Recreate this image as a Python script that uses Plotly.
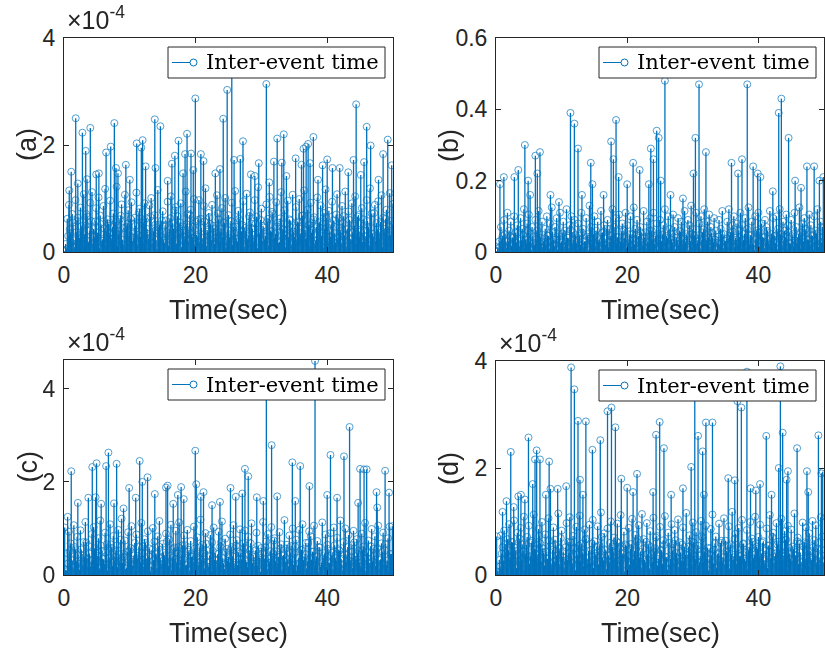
import numpy as np
import plotly.graph_objects as go

BLUE = '#0072BD'
AX = '#262626'

# sampling interval of the dense background (s); second background list sits half a step later
dt = 0.25

# ---------------- panel (a): values in units of 1e-4 s ----------------
a_bg = [0.02,0.15,0.62,0.88,0.35,0.71,0.22,0.97,0.58,0.31,
        0.83,0.27,1.08,0.49,0.66,0.18,0.92,1.12,0.43,0.57,
        0.29,1.02,0.68,0.21,0.86,1.18,0.38,0.53,0.96,0.24,
        0.72,0.41,1.22,0.33,0.61,0.89,0.14,1.07,0.47,0.78,
        0.39,0.93,0.26,0.64,1.11,0.32,0.81,0.56,0.19,0.91,
        0.63,0.34,0.87,1.01,0.44,0.69,0.23,1.16,0.51,0.28,
        0.76,0.17,0.59,0.94,0.42,1.04,0.54,0.31,0.84,0.67,
        0.36,0.91,0.48,0.22,1.13,0.71,0.46,0.79,0.26,0.99,
        0.57,0.29,0.97,0.62,0.16,0.86,1.19,0.41,0.73,0.52,
        0.88,0.44,0.27,1.06,0.61,0.37,0.82,0.56,1.01,0.21,
        0.69,0.33,0.92,0.47,1.14,0.25,0.77,0.58,0.39,0.95,
        0.45,1.09,0.31,0.74,0.53,0.18,0.97,0.66,1.21,0.34,
        0.81,0.49,0.23,0.89,0.62,1.03,0.38,0.71,0.27,0.93,
        0.55,0.19,1.12,0.43,0.78,0.32,0.96,0.61,0.45,1.07,
        0.28,0.84,0.57,0.99,0.36,0.68,1.15,0.24,0.79,0.51,
        0.92,0.41,0.65,0.21,1.02,0.54,0.87,0.35,0.73,1.17,
        0.46,0.77,0.29,0.94,0.59,0.17,1.08,0.63,0.39,0.86,
        0.67,1.13,0.42,0.76,0.25,0.91,0.53,1.04,0.33,0.69,
        0.38,0.82,0.61,0.19,0.97,0.47,1.19,0.72,0.28,0.88,
        0.54,0.95,0.36,1.06,0.64,0.43,0.79,0.31,1.1,0.58]
a_bg2 = [0.01,0.05,0.3,0.42,0.18,0.55,0.09,0.37,0.64,0.26,
         0.48,0.12,0.33,0.71,0.21,0.4,0.58,0.15,0.29,0.82,
         0.36,0.07,0.52,0.24,0.44,0.13,0.61,0.34,0.19,0.47,
         0.27,0.56,0.11,0.39,0.68,0.23,0.45,0.08,0.53,0.31,
         0.62,0.2,0.35,0.49,0.14,0.74,0.28,0.41,0.57,0.1,
         0.43,0.25,0.66,0.17,0.38,0.51,0.06,0.46,0.3,0.59,
         0.22,0.5,0.37,0.12,0.63,0.27,0.44,0.78,0.16,0.34,
         0.55,0.09,0.4,0.29,0.52,0.21,0.69,0.33,0.47,0.14,
         0.32,0.6,0.18,0.45,0.26,0.57,0.11,0.38,0.65,0.23,
         0.49,0.15,0.36,0.72,0.2,0.43,0.28,0.54,0.08,0.41,
         0.26,0.58,0.13,0.35,0.47,0.19,0.62,0.3,0.5,0.1,
         0.39,0.24,0.67,0.16,0.44,0.32,0.53,0.07,0.37,0.6,
         0.21,0.46,0.29,0.56,0.12,0.4,0.75,0.25,0.34,0.48,
         0.17,0.63,0.31,0.42,0.09,0.52,0.27,0.59,0.14,0.38,
         0.45,0.22,0.55,0.33,0.68,0.18,0.41,0.26,0.5,0.11,
         0.36,0.61,0.15,0.47,0.24,0.57,0.3,0.08,0.43,0.64,
         0.2,0.39,0.52,0.13,0.35,0.7,0.27,0.46,0.17,0.54,
         0.31,0.1,0.44,0.6,0.23,0.37,0.49,0.16,0.66,0.28,
         0.53,0.19,0.4,0.3,0.58,0.12,0.45,0.34,0.73,0.21,
         0.42,0.26,0.56,0.09,0.38,0.62,0.18,0.48,0.32,0.51]
a_peak_t = [0.8,1.1,1.78,2.1,2.8,3.3,3.5,4.0,4.9,5.3,6.4,7.1,7.65,7.9,8.2,9.4,10.0,11.05,11.75,11.95,
            12.4,13.8,13.9,14.65,15.75,16.4,16.85,17.4,18.1,18.4,18.7,19.3,19.65,19.96,20.8,21.2,23.0,23.7,
            24.2,24.8,25.5,25.85,26.8,27.2,28.4,29.0,29.6,30.75,31.2,31.9,32.4,33.1,33.4,33.8,35.2,36.1,
            36.4,36.8,37.1,37.4,37.9,38.6,39.3,40.0,40.8,41.9,43.2,44.0,44.4,45.1,45.6,46.0,46.6,47.8,
            48.5,49.2,49.8,50.0]
a_peak_v = [1.15,1.5,2.5,1.28,2.23,1.89,1.36,2.32,1.45,1.47,1.86,1.97,2.41,1.57,1.47,1.63,1.35,2.03,1.95,2.09,
            1.6,2.48,1.57,2.35,1.33,1.65,1.8,2.08,1.47,1.83,2.21,1.84,1.53,2.87,1.83,1.7,1.47,1.55,
            2.49,3.03,3.6,1.72,1.74,2.07,1.45,1.42,1.66,3.14,1.3,1.69,2.12,1.67,2.2,1.42,1.75,1.63,
            1.93,1.97,2.02,1.66,2.15,1.35,1.62,1.73,1.57,1.57,1.49,1.72,2.76,1.44,1.68,2.34,1.99,1.35,
            1.83,2.10,1.62,0.9]

# ---------------- panel (b): values in s ----------------
b_bg = [0.002,0.01,0.03,0.07,0.045,0.09,0.03,0.11,0.06,0.085,
        0.04,0.1,0.055,0.075,0.02,0.095,0.065,0.12,0.035,0.08,
        0.105,0.05,0.07,0.025,0.09,0.06,0.115,0.04,0.085,0.03,
        0.065,0.1,0.045,0.08,0.125,0.035,0.07,0.095,0.05,0.11,
        0.03,0.085,0.06,0.12,0.04,0.075,0.1,0.055,0.09,0.025,
        0.08,0.045,0.11,0.065,0.03,0.095,0.05,0.13,0.07,0.04,
        0.1,0.06,0.085,0.035,0.115,0.055,0.075,0.02,0.09,0.065,
        0.045,0.12,0.07,0.095,0.04,0.105,0.03,0.08,0.06,0.11,
        0.075,0.035,0.1,0.05,0.125,0.065,0.09,0.045,0.07,0.03,
        0.115,0.055,0.085,0.025,0.095,0.06,0.11,0.04,0.08,0.05,
        0.09,0.03,0.075,0.12,0.045,0.1,0.065,0.035,0.105,0.07,
        0.04,0.095,0.06,0.085,0.02,0.115,0.05,0.09,0.075,0.13,
        0.065,0.045,0.11,0.03,0.08,0.1,0.055,0.12,0.035,0.085,
        0.105,0.07,0.04,0.095,0.06,0.025,0.09,0.065,0.115,0.05,
        0.03,0.085,0.12,0.055,0.075,0.1,0.04,0.08,0.06,0.11,
        0.075,0.035,0.095,0.065,0.125,0.045,0.085,0.02,0.1,0.06,
        0.11,0.055,0.08,0.04,0.09,0.07,0.03,0.115,0.05,0.095,
        0.045,0.1,0.065,0.12,0.035,0.085,0.06,0.105,0.075,0.025,
        0.09,0.05,0.11,0.07,0.04,0.125,0.055,0.08,0.095,0.065,
        0.035,0.105,0.075,0.045,0.1,0.06,0.12,0.03,0.085,0.07]
b_bg2 = [0.001,0.004,0.015,0.035,0.02,0.05,0.012,0.03,0.045,0.018,
         0.04,0.008,0.026,0.055,0.016,0.033,0.048,0.011,0.024,0.06,
         0.028,0.006,0.042,0.019,0.036,0.01,0.05,0.027,0.014,0.038,
         0.022,0.046,0.009,0.031,0.057,0.017,0.035,0.007,0.044,0.025,
         0.052,0.015,0.029,0.04,0.011,0.062,0.023,0.034,0.047,0.008,
         0.036,0.02,0.054,0.013,0.03,0.043,0.005,0.038,0.024,0.049,
         0.018,0.041,0.03,0.01,0.053,0.022,0.037,0.065,0.013,0.028,
         0.046,0.007,0.033,0.024,0.043,0.017,0.058,0.027,0.039,0.011,
         0.026,0.05,0.015,0.037,0.021,0.048,0.009,0.031,0.055,0.019,
         0.041,0.012,0.03,0.06,0.016,0.036,0.023,0.045,0.006,0.034,
         0.021,0.049,0.01,0.029,0.039,0.015,0.052,0.025,0.042,0.008,
         0.032,0.02,0.056,0.013,0.037,0.026,0.044,0.005,0.031,0.05,
         0.017,0.038,0.024,0.047,0.01,0.033,0.063,0.021,0.028,0.04,
         0.014,0.053,0.026,0.035,0.007,0.043,0.022,0.049,0.011,0.032,
         0.037,0.018,0.046,0.027,0.057,0.015,0.034,0.021,0.042,0.009,
         0.03,0.051,0.012,0.039,0.02,0.048,0.025,0.006,0.036,0.054,
         0.016,0.032,0.043,0.011,0.029,0.059,0.022,0.038,0.014,0.045,
         0.026,0.008,0.037,0.05,0.019,0.031,0.041,0.013,0.055,0.023,
         0.044,0.016,0.033,0.025,0.048,0.01,0.037,0.028,0.061,0.017,
         0.035,0.021,0.047,0.007,0.032,0.052,0.015,0.04,0.027,0.043]
b_peak_t = [0.6,1.2,2.8,3.4,4.4,4.9,5.2,6.0,6.3,6.7,8.3,9.6,11.35,11.95,12.5,13.1,14.45,14.7,16.4,17.55,
            17.9,18.3,18.7,20.0,20.9,21.9,23.3,23.6,24.0,24.5,24.8,25.1,25.75,26.6,28.5,30.1,30.4,30.95,
            32.0,35.9,36.9,37.5,38.3,39.2,39.9,40.3,42.2,43.1,43.5,44.6,45.6,46.5,47.4,48.5,49.3,49.9]
b_peak_v = [0.19,0.21,0.21,0.23,0.30,0.20,0.16,0.27,0.22,0.28,0.16,0.14,0.39,0.36,0.29,0.16,0.25,0.19,0.16,0.31,
            0.26,0.37,0.21,0.19,0.25,0.23,0.19,0.29,0.26,0.34,0.32,0.20,0.48,0.16,0.15,0.22,0.32,0.47,
            0.28,0.25,0.22,0.26,0.47,0.24,0.22,0.21,0.17,0.39,0.43,0.32,0.20,0.18,0.24,0.24,0.20,0.21]

# ---------------- panel (c): values in units of 1e-4 s ----------------
c_bg = [0.03,0.11,0.47,0.93,0.68,0.31,1.07,0.55,0.82,0.24,
        0.96,0.43,0.71,1.14,0.36,0.62,0.19,0.88,1.03,0.49,
        0.27,0.79,1.17,0.52,0.34,0.91,0.66,0.22,1.09,0.58,
        0.84,0.39,0.63,0.97,0.28,1.21,0.45,0.74,0.16,0.92,
        0.53,1.05,0.33,0.69,0.87,0.41,0.23,1.12,0.61,0.77,
        0.35,0.94,0.57,0.18,1.01,0.72,0.46,0.83,1.16,0.29,
        0.67,0.42,0.89,0.26,0.76,1.08,0.37,0.59,0.95,0.48,
        1.13,0.31,0.64,0.85,0.21,0.97,0.54,0.73,0.4,1.04,
        0.44,0.81,0.27,1.19,0.65,0.36,0.9,0.52,0.17,0.86,
        0.7,1.02,0.47,0.32,0.93,0.61,1.15,0.25,0.78,0.56,
        0.39,0.87,0.6,1.07,0.22,0.75,0.49,0.98,0.34,0.68,
        0.96,0.28,0.82,0.53,1.11,0.43,0.19,0.91,0.63,0.37,
        0.58,1.14,0.35,0.72,0.88,0.26,1.03,0.47,0.79,0.51,
        0.24,0.92,0.66,0.41,1.18,0.57,0.33,0.85,0.62,1.0,
        0.45,0.76,0.2,0.97,0.54,1.09,0.38,0.69,0.29,0.94,
        0.83,0.5,1.06,0.31,0.73,0.6,0.18,1.13,0.42,0.87,
        0.65,0.27,0.9,0.48,1.02,0.36,0.8,0.55,1.17,0.23,
        0.71,1.0,0.44,0.86,0.3,0.64,0.95,0.4,0.77,0.52,
        0.19,0.89,0.61,1.12,0.37,0.74,0.26,0.99,0.56,0.83,
        0.47,1.06,0.32,0.68,0.91,0.53,0.22,0.79,1.04,0.45]
c_bg2 = [0.02,0.08,0.25,0.51,0.34,0.16,0.6,0.29,0.43,0.12,
         0.55,0.22,0.38,0.7,0.19,0.46,0.31,0.09,0.57,0.27,
         0.41,0.14,0.63,0.35,0.24,0.49,0.1,0.37,0.66,0.2,
         0.3,0.53,0.17,0.44,0.76,0.26,0.39,0.13,0.5,0.33,
         0.58,0.21,0.42,0.11,0.36,0.61,0.28,0.47,0.18,0.69,
         0.25,0.4,0.08,0.54,0.32,0.45,0.15,0.62,0.37,0.23,
         0.48,0.3,0.72,0.19,0.41,0.12,0.56,0.34,0.27,0.6,
         0.16,0.43,0.35,0.64,0.22,0.5,0.1,0.39,0.29,0.57,
         0.38,0.2,0.59,0.31,0.46,0.14,0.67,0.26,0.42,0.09,
         0.52,0.33,0.18,0.45,0.24,0.71,0.36,0.13,0.49,0.3,
         0.27,0.55,0.4,0.15,0.63,0.21,0.34,0.47,0.11,0.58,
         0.32,0.17,0.44,0.68,0.25,0.38,0.53,0.2,0.41,0.07,
         0.46,0.29,0.6,0.13,0.35,0.51,0.23,0.74,0.3,0.16,
         0.39,0.57,0.12,0.43,0.28,0.65,0.19,0.48,0.34,0.22,
         0.61,0.1,0.37,0.26,0.54,0.31,0.45,0.14,0.69,0.24,
         0.33,0.5,0.21,0.4,0.08,0.59,0.27,0.36,0.47,0.18,
         0.56,0.25,0.42,0.13,0.64,0.3,0.19,0.52,0.35,0.11,
         0.44,0.28,0.6,0.22,0.38,0.15,0.7,0.32,0.46,0.26,
         0.17,0.53,0.36,0.09,0.48,0.24,0.62,0.29,0.41,0.2,
         0.58,0.14,0.34,0.5,0.23,0.67,0.31,0.12,0.45,0.37]
c_peak_t = [0.1,0.55,1.1,2.1,3.7,4.3,4.8,4.95,5.65,6.4,6.75,7.6,8.0,9.05,9.9,10.9,11.5,11.9,12.7,13.8,
            15.5,15.75,16.6,17.3,17.8,18.2,19.95,20.1,20.8,21.2,22.5,23.7,25.3,26.1,27.1,27.5,28.0,29.3,
            30.3,30.75,31.55,32.4,34.7,35.15,35.9,37.3,38.15,40.0,40.5,41.5,42.55,43.4,44.7,45.0,45.6,
            46.0,47.5,47.6,48.8,49.4,49.9]
c_peak_v = [1.02,1.25,2.23,1.55,1.66,2.32,1.67,2.40,1.53,2.34,2.63,1.54,2.39,1.43,1.87,1.66,2.45,2.0,2.1,1.74,
            1.88,1.92,1.53,1.72,1.89,1.63,2.67,1.95,1.68,1.78,1.5,1.57,1.87,1.68,1.75,2.28,2.12,1.67,
            1.59,4.2,2.79,1.69,2.42,1.59,2.34,1.91,4.6,1.72,2.58,1.66,2.55,3.18,1.55,2.28,2.27,
            2.27,1.78,1.45,2.24,1.77,1.05]

# ---------------- panel (d): values in units of 1e-4 s ----------------
d_bg = [0.01,0.06,0.28,0.74,0.52,0.83,0.41,0.67,0.95,0.33,
        0.61,1.02,0.45,0.79,0.26,0.88,0.57,1.09,0.38,0.71,
        0.92,0.35,0.64,1.13,0.48,0.23,0.86,0.59,0.99,0.42,
        0.76,0.31,1.06,0.54,0.2,0.89,0.66,0.37,1.15,0.5,
        0.83,0.44,0.27,0.97,0.62,1.08,0.35,0.73,0.51,0.9,
        0.29,1.11,0.58,0.4,0.85,0.68,0.22,0.94,0.47,1.03,
        0.63,0.36,0.91,0.55,1.17,0.32,0.78,0.46,0.87,0.25,
        1.0,0.53,0.7,0.19,0.96,0.6,1.12,0.39,0.81,0.57,
        0.34,0.88,0.49,1.05,0.28,0.75,0.62,0.93,0.43,1.14,
        0.67,0.24,0.97,0.56,0.82,0.37,1.07,0.5,0.73,0.3,
        0.9,0.46,0.65,1.1,0.33,0.79,0.21,0.95,0.58,0.84,
        0.41,1.04,0.61,0.27,0.89,0.52,1.16,0.38,0.74,0.63,
        0.98,0.35,0.8,0.55,0.23,1.01,0.69,0.44,0.92,0.51,
        0.3,0.86,1.13,0.47,0.72,0.39,0.96,0.6,0.25,1.06,
        0.64,0.42,0.91,0.57,1.18,0.33,0.77,0.5,0.88,0.36,
        1.03,0.59,0.26,0.84,0.45,0.99,0.68,0.31,1.09,0.53,
        0.71,0.94,0.4,0.63,0.2,0.87,0.55,1.12,0.43,0.79,
        0.35,0.97,0.62,0.48,1.05,0.29,0.82,0.66,0.92,0.4,
        0.85,0.53,1.15,0.37,0.7,0.58,0.24,0.98,0.61,0.89,
        0.46,0.78,0.32,1.01,0.65,0.93,0.5,0.19,1.08,0.72]
d_bg2 = [0.01,0.03,0.16,0.4,0.27,0.58,0.19,0.46,0.33,0.62,
         0.24,0.51,0.13,0.37,0.68,0.29,0.44,0.1,0.56,0.35,
         0.21,0.6,0.32,0.48,0.15,0.39,0.73,0.26,0.5,0.18,
         0.43,0.3,0.64,0.12,0.47,0.25,0.57,0.36,0.2,0.69,
         0.34,0.14,0.52,0.28,0.41,0.61,0.22,0.49,0.09,0.38,
         0.55,0.26,0.42,0.17,0.66,0.31,0.45,0.23,0.59,0.13,
         0.4,0.53,0.2,0.35,0.71,0.27,0.48,0.11,0.37,0.6,
         0.24,0.44,0.32,0.63,0.16,0.5,0.29,0.41,0.07,0.54,
         0.36,0.19,0.58,0.3,0.45,0.22,0.67,0.33,0.14,0.49,
         0.28,0.62,0.39,0.12,0.52,0.25,0.43,0.7,0.18,0.35,
         0.47,0.21,0.56,0.34,0.1,0.6,0.3,0.46,0.23,0.65,
         0.32,0.15,0.42,0.57,0.26,0.38,0.13,0.53,0.4,0.2,
         0.61,0.29,0.48,0.17,0.36,0.72,0.24,0.44,0.31,0.09,
         0.5,0.37,0.22,0.59,0.14,0.41,0.27,0.64,0.33,0.19,
         0.45,0.55,0.12,0.39,0.28,0.68,0.21,0.47,0.35,0.16,
         0.58,0.3,0.43,0.11,0.52,0.25,0.62,0.38,0.2,0.49,
         0.34,0.18,0.6,0.27,0.46,0.13,0.55,0.32,0.71,0.23,
         0.4,0.57,0.15,0.44,0.29,0.36,0.66,0.1,0.51,0.3,
         0.26,0.48,0.37,0.63,0.2,0.42,0.14,0.54,0.31,0.59,
         0.17,0.45,0.28,0.52,0.39,0.22,0.6,0.33,0.47,0.24]
d_peak_t = [0.1,1.0,1.6,2.25,2.7,3.4,3.8,4.4,4.95,5.6,5.95,6.2,6.7,7.6,8.1,8.3,9.4,10.7,11.45,11.95,
            12.5,12.8,13.25,13.7,14.7,15.9,17.0,17.6,18.2,19.1,20.0,20.9,21.5,23.95,24.4,24.95,25.6,26.7,
            28.5,29.75,30.3,30.8,31.5,31.7,32.0,33.0,35.4,36.4,36.8,37.4,38.25,38.8,39.6,40.25,41.2,42.0,
            43.1,43.35,43.7,44.3,44.5,45.9,47.4,47.6,49.15,49.6,49.8]
d_peak_v = [0.72,1.18,1.38,2.30,1.27,1.47,1.50,1.41,2.57,1.7,2.16,2.33,2.16,1.50,2.12,1.61,1.61,1.66,3.88,3.47,
            2.88,1.78,1.50,2.87,2.34,2.52,3.06,3.13,2.76,1.8,1.63,1.55,1.89,1.55,2.62,2.86,2.37,1.5,
            1.62,2.02,3.7,2.6,2.31,1.5,2.85,2.85,1.81,1.77,3.25,3.13,3.8,1.62,1.58,1.70,2.6,1.50,
            2.0,3.9,2.66,1.78,1.94,2.37,1.94,1.55,2.61,1.9,1.93]

x_ticks = [0, 20, 40]
ylabels = ['(a)', '(b)', '(c)', '(d)']
y_ticks = [[0, 2, 4], [0, 0.2, 0.4, 0.6], [0, 2, 4], [0, 2, 4]]
y_ticktext = [['0', '2', '4'], ['0', '0.2', '0.4', '0.6'], ['0', '2', '4'], ['0', '2', '4']]
y_ranges = [[0, 4], [0, 0.6], [0, 4.62], [0, 4]]
show_exp = [True, False, True, True]
legend_label = 'Inter-event time'

W, H = 825, 652
# plot areas in pixels: (left, right, top, bottom)
boxes = [(64, 393, 38, 252), (496, 824, 38, 252), (64, 393, 360, 575), (496, 824, 361, 575)]

panels = [(a_bg, a_bg2, a_peak_t, a_peak_v), (b_bg, b_bg2, b_peak_t, b_peak_v),
          (c_bg, c_bg2, c_peak_t, c_peak_v), (d_bg, d_bg2, d_peak_t, d_peak_v)]

SANS = 'Liberation Sans, Arial, sans-serif'
SERIF = 'DejaVu Serif, Liberation Serif, serif'


def px(x):
    return x / W


def py(y):
    return (H - y) / H


fig = go.Figure()
layout = dict(width=W, height=H, margin=dict(l=0, r=0, t=0, b=0, autoexpand=False),
              paper_bgcolor='white', plot_bgcolor='white', showlegend=False)
annotations = []
shapes = []

for i, (bg, bg2, pt, pv) in enumerate(panels):
    n = i + 1
    sfx = '' if n == 1 else str(n)
    t_all = ([round(k * dt, 3) for k in range(len(bg))] +
             [round(k * dt + dt / 2, 3) for k in range(len(bg2))] + list(pt))
    v_all = list(bg) + list(bg2) + list(pv)
    order = np.argsort(t_all, kind='stable')
    t_all = [t_all[k] for k in order]
    v_all = [v_all[k] for k in order]
    xs, ys = [], []
    for t, v in zip(t_all, v_all):
        xs += [t, t, None]
        ys += [0, v, None]
    xa = 'x' + sfx
    ya = 'y' + sfx
    fig.add_trace(go.Scatter(x=xs, y=ys, mode='lines', line=dict(color=BLUE, width=1.3),
                             name=legend_label, xaxis=xa, yaxis=ya, hoverinfo='skip'))
    fig.add_trace(go.Scatter(x=t_all, y=v_all, mode='markers', name=legend_label,
                             marker=dict(symbol='circle-open', size=7, color=BLUE,
                                         line=dict(width=0.8)),
                             opacity=0.85, xaxis=xa, yaxis=ya))
    l, r, top, bot = boxes[i]
    common = dict(showline=True, linecolor=AX, linewidth=1, mirror='ticks', ticks='inside',
                  ticklen=5, tickcolor=AX, showgrid=False, zeroline=False, automargin=False,
                  tickfont=dict(family=SANS, size=23, color=AX))
    layout['xaxis' + sfx] = dict(domain=[px(l), px(r)], anchor=ya, range=[0, 50],
                                 tickvals=x_ticks, ticklabelstandoff=2, **common)
    layout['yaxis' + sfx] = dict(domain=[py(bot), py(top)], anchor=xa,
                                 range=y_ranges[i], tickvals=y_ticks[i], ticktext=y_ticktext[i],
                                 ticklabelstandoff=3, **common)

    # legend box (drawn as layout decoration, like MATLAB's legend)
    lx0, lx1, ly0, ly1 = r - 225, r - 8, top + 9, top + 40
    cy = (ly0 + ly1) / 2
    shapes.append(dict(type='rect', xref='paper', yref='paper', layer='above',
                       x0=px(lx0), x1=px(lx1), y0=py(ly1), y1=py(ly0),
                       fillcolor='white', line=dict(color=AX, width=1)))
    shapes.append(dict(type='line', xref='paper', yref='paper', layer='above',
                       x0=px(lx0 + 4), x1=px(lx0 + 26), y0=py(cy), y1=py(cy),
                       line=dict(color=BLUE, width=1)))
    shapes.append(dict(type='circle', xref='paper', yref='paper', layer='above',
                       x0=px(lx0 + 22), x1=px(lx0 + 29), y0=py(cy + 3.5), y1=py(cy - 3.5),
                       fillcolor='white', line=dict(color=BLUE, width=1)))
    annotations.append(dict(x=px(lx0 + 36), y=py(cy), xref='paper', yref='paper',
                            text=legend_label, showarrow=False, xanchor='left', yanchor='middle',
                            font=dict(family=SERIF, size=21, color='black')))

    # x axis title
    annotations.append(dict(x=px((l + r) / 2), y=py(bot + 58), xref='paper', yref='paper',
                            text='Time(sec)', showarrow=False, xanchor='center', yanchor='middle',
                            font=dict(family=SANS, size=27, color=AX)))
    # y axis title
    yl_x = 27 if l < 200 else 449
    annotations.append(dict(x=px(yl_x), y=py((top + bot) / 2), xref='paper', yref='paper',
                            text=ylabels[i], showarrow=False, textangle=-90,
                            xanchor='center', yanchor='middle',
                            font=dict(family=SANS, size=27, color=AX)))
    if show_exp[i]:
        annotations.append(dict(x=px(l + 1), y=py(top - 2), xref='paper', yref='paper',
                                text='×10<sup>-4</sup>', showarrow=False, xanchor='left',
                                yanchor='bottom',
                                font=dict(family=SANS, size=25, color=AX)))

layout['annotations'] = annotations
layout['shapes'] = shapes
fig.update_layout(**layout)
fig.write_html('out.html', post_script="document.body.style.margin='0px';document.body.style.overflow='hidden';")
